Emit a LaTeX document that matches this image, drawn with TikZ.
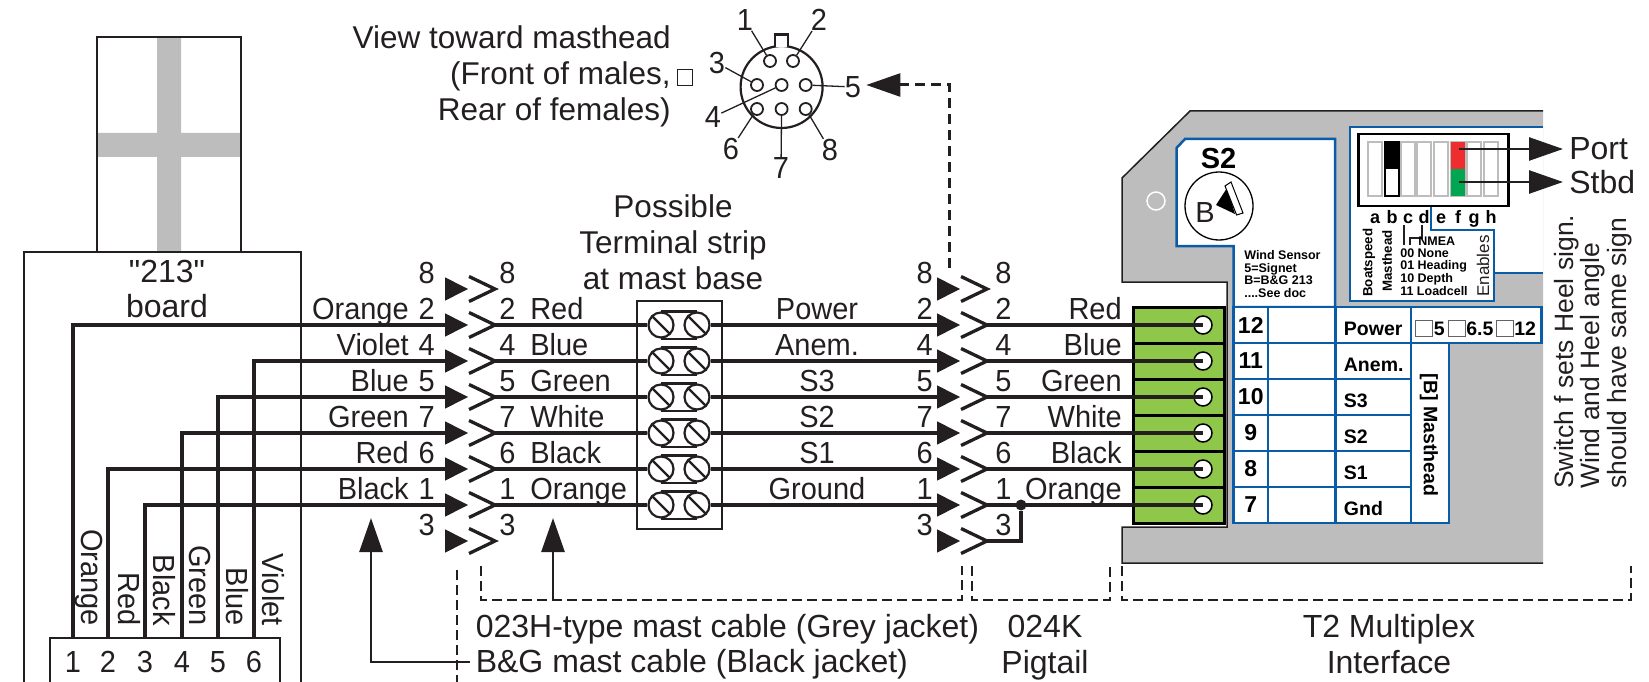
\documentclass[tikz,border=0pt]{standalone}
\usepackage{amsmath}
\usepackage{fontspec}
\setmainfont{Liberation Sans}
\newfontfamily\tallfont{Liberation Sans}[FakeStretch=0.95]
\font\quotefont="Liberation Sans" at 32pt
\usepackage{tikz}
\usetikzlibrary{calc,arrows.meta,shapes.geometric}

\definecolor{ink}{HTML}{231F20}
\definecolor{panelgrey}{HTML}{BDBDBD}
\definecolor{tblblue}{HTML}{0B5CA6}
\definecolor{termgreen}{HTML}{8FC74A}
\definecolor{swred}{HTML}{EE2E2E}
\definecolor{swgreen}{HTML}{00A651}

\tikzset{
  lbl/.style={font=\tallfont\fontsize{30.5}{35}\selectfont,inner sep=0pt,text=ink},
  capt/.style={font=\fontsize{32}{36}\selectfont,inner sep=0pt,text=ink},
  tiny/.style={font=\bfseries\fontsize{12.5}{12.7}\selectfont,inner sep=0pt,text=black},
  small/.style={font=\bfseries\fontsize{13.3}{15}\selectfont,inner sep=0pt,text=black},
  tbltxt/.style={font=\bfseries\fontsize{19.5}{22}\selectfont,inner sep=0pt,text=black},
  wire/.style={draw=ink,line width=4pt},
  chevron/.style={draw=ink,line width=3.3pt},
  fine/.style={draw=ink,line width=2.2pt},
  thin/.style={draw=ink,line width=1.3pt},
  bigarrow/.style={draw=ink,line width=2.6pt,-{Triangle[length=34pt,width=23pt]}},
  dashline/.style={draw=ink,line width=2pt,dash pattern=on 10pt off 5pt},
  cell/.style={draw=tblblue,line width=2.5pt,fill=white,inner sep=0pt,minimum height=36pt},
  pinhole/.style={draw=ink,circle,line width=1.8pt,inner sep=0pt,minimum size=12pt},
  tslot/.style={draw=ink,circle,fill=white,line width=2.2pt,inner sep=0pt,minimum size=25pt},
  swslot/.style={draw=panelgrey,line width=2pt,inner sep=0pt,minimum width=13.5pt,minimum height=54pt},
  tickbox/.style={draw=ink!70,fill=white,line width=1pt,inner sep=0pt,minimum width=17pt,minimum height=16pt}
}

% one male/female contact pair
\newcommand{\plugpair}[3]{
  \coordinate (#1a) at (#2,#3);
  \coordinate (#1b) at (#2+50,#3);
  \fill [ink] (#2,#3-11.7) -- (#2+23,#3) -- (#2,#3+11.7) -- cycle;
  \draw [chevron] (#2+24,#3-12.5) -- (#2+50,#3) -- (#2+24,#3+12.5);
}
% one row of the terminal strip
\newcommand{\screwterm}[2]{
  \node [tslot] (#1l) at (661,#2) {};
  \node [tslot] (#1r) at (697,#2) {};
  \draw [fine] (#1l.north) -- (#1r.north) (#1l.south) -- (#1r.south);
  \draw [fine] (#1l.135) -- (#1l.-45) (#1r.135) -- (#1r.-45);
}

\begin{document}
\begin{tikzpicture}[semithick, x=1pt, y=-1pt]
  \useasboundingbox (0,0) rectangle (1649,682);

  % 213 board
  \fill [panelgrey] (157,37) rectangle (181,252) (97,133) rectangle (241,157);
  \draw [fine] (97,252) |- (241,37) -- (241,252);
  \draw [fine] (24,682) |- (301,252) -- (301,682);
  \node [capt,font=\fontsize{32}{35}\selectfont,align=center] (board) at (167,289) {{\quotefont"}213{\quotefont"}\\board};
  \draw [fine] (50,682) |- (280,638) -- (280,682);
  \foreach \k/\x/\bx/\wname in {1/73/81/Orange, 2/108/118/Red, 3/145/153/Black, 4/182/189/Green, 5/218/226/Blue, 6/254/262/Violet} {
    \coordinate (hdr\k) at (\x,638);
    \node [lbl] (dig\k) at (\x,662) {\k};
    \node [lbl,rotate=-90,anchor=base east] (wn\k) at (\bx,626) {\wname};
  }

  % connector seen from the front
  \node [draw=ink,circle,line width=2.2pt,minimum size=82pt,inner sep=0pt] (shell) at (781.6,87) {};
  \path [fill=white,draw=ink,line width=2.2pt] (775,47) -- (775,34.5) -- (788,34.5) -- (788,47);
  \foreach \n/\x/\y/\lx/\ly in {1/770/61/745/20, 2/793/61/819/20, 3/757/85/717/63, 4/781.6/85/713/117,
                                5/805.7/85/853/87, 6/757/109/731/149, 7/781.6/109/781/168, 8/805.7/109/830/150} {
    \node [pinhole] (p\n) at (\x,\y) {};
    \node [lbl] (v\n) at (\lx,\ly) {\n};
    \draw [thin] (v\n) -- (p\n);
  }
  \node [capt,font=\fontsize{31.5}{36}\selectfont,align=right,anchor=east] (view) at (671,76.5) {View toward masthead\\(Front of males,\\Rear of females)};
  \node [draw=ink,line width=.8pt,inner sep=0pt,minimum width=15pt,minimum height=16pt] (glyph) at (685,77) {};
  \node [capt,font=\fontsize{31.5}{36}\selectfont,align=center] (strip) at (673,242) {Possible\\Terminal strip\\at mast base};

  % grey interface panel
  \path [fill=panelgrey,draw=ink,line width=1.5pt] (1543,111) -- (1190,111) -- (1122,178) -- (1122,282) -- (1227,282) -- (1227,527) -- (1122,527) -- (1122,563) -- (1543,563);
  \node [circle,draw=white,line width=1.5pt,minimum size=18pt,inner sep=0pt] (hole) at (1156,201) {};
  \path [fill=white,draw=tblblue,line width=2.5pt] (1176.5,148) -- (1185,139) -- (1335,139) -- (1335,307) -- (1233.5,307) -- (1233.5,246) -- (1176.5,246) -- cycle;
  \path [fill=white] (1350,127) rectangle (1543,301);
  \fill [panelgrey] (1494,273) rectangle (1543,301);
  \draw [tblblue,line width=2.5pt] (1543,127) -- (1350,127) -- (1350,301) -- (1494,301) -- (1494,273) -- (1543,273);
  \draw [tblblue,line width=2.5pt] (1431,206) -- (1431,230) -- (1494,230) -- (1494,273);

  % S2 dial
  \node [font=\bfseries\fontsize{29}{30}\selectfont,inner sep=0pt] (stwo) at (1218.5,159) {S2};
  \node [draw=black,circle,line width=1.3pt,minimum size=68pt,inner sep=0pt,fill=white] (dial) at (1219,206) {};
  \node [lbl,font=\fontsize{29}{30}\selectfont] (dialb) at (1205,213) {B};
  \fill [black] (1216,205) -- (1227,188) -- (1235,214) -- cycle;
  \draw [black,fill=white,line width=1pt] (1225,186) -- (1231,182) -- (1243,213) -- (1236.6,215) -- cycle;
  \node [tiny,align=left,anchor=north west] (wind) at (1244,250) {Wind Sensor\\5=Signet\\B=B\&G 213\\....See doc};

  % DIP switches
  \node [draw=black,line width=2.8pt,minimum width=150pt,minimum height=72pt,inner sep=0pt,fill=white] (dipbox) at (1433.8,170) {};
  \foreach \k/\x in {a/1375,b/1392,c/1408,d/1424,e/1441,f/1458,g/1474,h/1491} {
    \node [swslot] (sw\k) at (\x,169) {};
    \node [font=\bfseries\fontsize{18}{20}\selectfont,inner sep=0pt,anchor=base] (let\k) at (\x,223) {\k};
  }
  \node [draw=black,line width=2pt,fill=white,inner sep=0pt,minimum width=13.5pt,minimum height=54pt] (swbody) at (1392,169) {};
  \node [fill=black,inner sep=0pt,minimum width=13.5pt,minimum height=27pt] (swblack) at (1392,155.5) {};
  \node [fill=swred,inner sep=0pt,minimum width=14pt,minimum height=27pt] (swport) at (1458,155.5) {};
  \node [fill=swgreen,inner sep=0pt,minimum width=14pt,minimum height=27pt] (swstbd) at (1458,182.5) {};
  \node [capt,anchor=west,inner xsep=6pt] (port) at (1563,149) {Port};
  \node [capt,anchor=west,inner xsep=6pt] (stbd) at (1563,182) {Stbd};
  \draw [bigarrow] ($(swport.center)+(1,-6.5)$) -- (port.west);
  \draw [bigarrow] ($(swstbd.center)+(1,-.5)$) -- (stbd.west);
  \node [small,rotate=90,anchor=west] (boatsp) at (1369,297) {Boatspeed};
  \node [small,rotate=90,anchor=west] (masth) at (1387,292) {Masthead};
  \node [capt,font=\fontsize{17}{20}\selectfont,rotate=90,anchor=west] (enab) at (1483,297) {Enables};
  \draw [thin] (1404,225) -- (1404,245);
  \draw [thin] (1422,225) -- (1422,238) -| (1410,245);
  \node [tiny,anchor=west] (nmea) at (1418,241) {NMEA};
  \node [tiny,anchor=west] (none) at (1400,253) {00 None};
  \node [tiny,anchor=west] (head) at (1400,266) {01 Heading};
  \node [tiny,anchor=west] (depth) at (1400,279) {10 Depth};
  \node [tiny,anchor=west] (load) at (1400,291) {11 Loadcell};

  % table of the interface
  \node [cell,minimum width=38.5pt,minimum height=180pt] (mastcol) at (1429.75,433) {};
  \node [tbltxt,rotate=-90] (mastlab) at (1429,435) {[B] Masthead};
  \node [cell,minimum width=131pt] (powopt) at (1476,325) {};
  \node [tickbox] (tb1) at (1423.5,328) {};
  \node [tbltxt,anchor=base west] (tv1) at (1433.5,335) {5};
  \node [tickbox] (tb2) at (1457,328) {};
  \node [tbltxt,anchor=base west] (tv2) at (1466,335) {6.5};
  \node [tickbox] (tb3) at (1505,328) {};
  \node [tbltxt,anchor=base west] (tv3) at (1514,335) {12};
  \foreach \y/\mname/\tnum in {325/Power/12, 361/Anem./11, 397/S3/10, 433/S2/9, 469/S1/8, 505/Gnd/7} {
    \node [cell,minimum width=34.5pt,font=\bfseries\fontsize{23}{24}\selectfont] (num\tnum) at (1250.75,\y) {\tnum};
    \node [cell,minimum width=67pt] (blank\tnum) at (1301.5,\y) {};
    \node [cell,minimum width=75.5pt] (sig\tnum) at (1373,\y) {};
    \node [tbltxt,anchor=base west] (sigt\tnum) at (1343.6,\y+10) {\mname};
    \node [draw=black,line width=3pt,fill=termgreen,minimum width=91pt,minimum height=36pt,inner sep=0pt] (grn\tnum) at (1178.5,\y) {};
    \node [draw=black,circle,fill=white,line width=1.5pt,minimum size=18pt,inner sep=0pt] (scr\tnum) at (1203,\y) {};
  }

  % the two plugs
  \foreach \y/\pin in {289/8,325/2,361/4,397/5,433/7,469/6,505/1,541/3} {
    \plugpair{m\pin}{445}{\y}
    \plugpair{n\pin}{937}{\y}
    \node [lbl,anchor=base east] (lm\pin) at (435,\y-5.5) {\pin};
    \node [lbl,anchor=base west] (rm\pin) at (499,\y-5.5) {\pin};
    \node [lbl,anchor=base east] (ln\pin) at (933,\y-5.5) {\pin};
    \node [lbl,anchor=base west] (rn\pin) at (995,\y-5.5) {\pin};
  }

  % terminal strip and wires
  \node [fine,draw,minimum width=85pt,minimum height=228pt,inner sep=0pt] (tstrip) at (679.5,415) {};
  \foreach \y/\pin/\lname/\rname/\mname/\ename/\tnum/\hk in {325/2/Orange/Red/Power/Red/12/1, 361/4/Violet/Blue/Anem./Blue/11/6, 397/5/Blue/Green/S3/Green/10/5,
                                                            433/7/Green/White/S2/White/9/4, 469/6/Red/Black/S1/Black/8/2, 505/1/Black/Orange/Ground/Orange/7/3} {
    \screwterm{t\pin}{\y}
    \draw [wire] (m\pin a) -| (hdr\hk);
    \draw [wire] (m\pin b) -- (t\pin l);
    \draw [wire] (t\pin r) -- (n\pin a);
    \draw [wire] (n\pin b) -- (scr\tnum.center);
    \node [lbl,anchor=base east] (lc\pin) at (409,\y-5.5) {\lname};
    \node [lbl,anchor=base west] (rc\pin) at (530,\y-5.5) {\rname};
    \node [lbl,anchor=base] (mc\pin) at (817,\y-5.5) {\mname};
    \node [lbl,anchor=base east] (ec\pin) at (1122,\y-5.5) {\ename};
  }
  \node [circle,fill=ink,inner sep=0pt,minimum size=11pt] (jn) at (1021,505) {};
  \draw [wire] (n3b) -| (jn);

  % captions and pointers
  \node [capt,anchor=base west] (grey) at (475.5,637) {023H-type mast cable (Grey jacket)};
  \node [capt,anchor=base west] (black) at (475.5,672) {B\&G mast cable (Black jacket)};
  \node [capt,anchor=base] (pigta) at (1045,637) {024K};
  \node [capt,anchor=base] (pigtb) at (1045,673) {Pigtail};
  \node [capt,anchor=base] (tta) at (1389,637) {T2 Multiplex};
  \node [capt,anchor=base] (ttb) at (1389,673) {Interface};
  \node [capt,font=\fontsize{26.5}{26.8}\selectfont,rotate=90,align=left,anchor=west] (note) at (1593,489) {Switch f sets Heel sign.\\Wind and Heel angle\\should have same sign};

  \coordinate (upa) at (371,518);
  \coordinate (upb) at (553,518);
  \coordinate (bgend) at (470,662);
  \coordinate (brka) at (481,566);
  \coordinate (brkb) at (962,566);
  \coordinate (brkc) at (972,566);
  \coordinate (brkd) at (1110,566);
  \coordinate (brke) at (1122,566);
  \coordinate (brkf) at (1631,566);
  \draw [dashline] (brka) -- ++(0,34) -| (brkb);
  \draw [dashline] (brkc) -- ++(0,34) -| (brkd);
  \draw [dashline] (brke) -- ++(0,34) -| (brkf);
  \draw [dashline] (457,570) -- (457,682);
  \draw [bigarrow] (bgend) -| (upa);
  \draw [bigarrow] (553,600) -- (upb);
  \coordinate (dashup) at (949.5,268);
  \draw [draw=ink,line width=3pt,dash pattern=on 10pt off 6pt] (dashup) |- (880,85);
  \draw [bigarrow,shorten >=5pt] (904,85) -- (v5.east |- 0,85);
\end{tikzpicture}
\end{document}
